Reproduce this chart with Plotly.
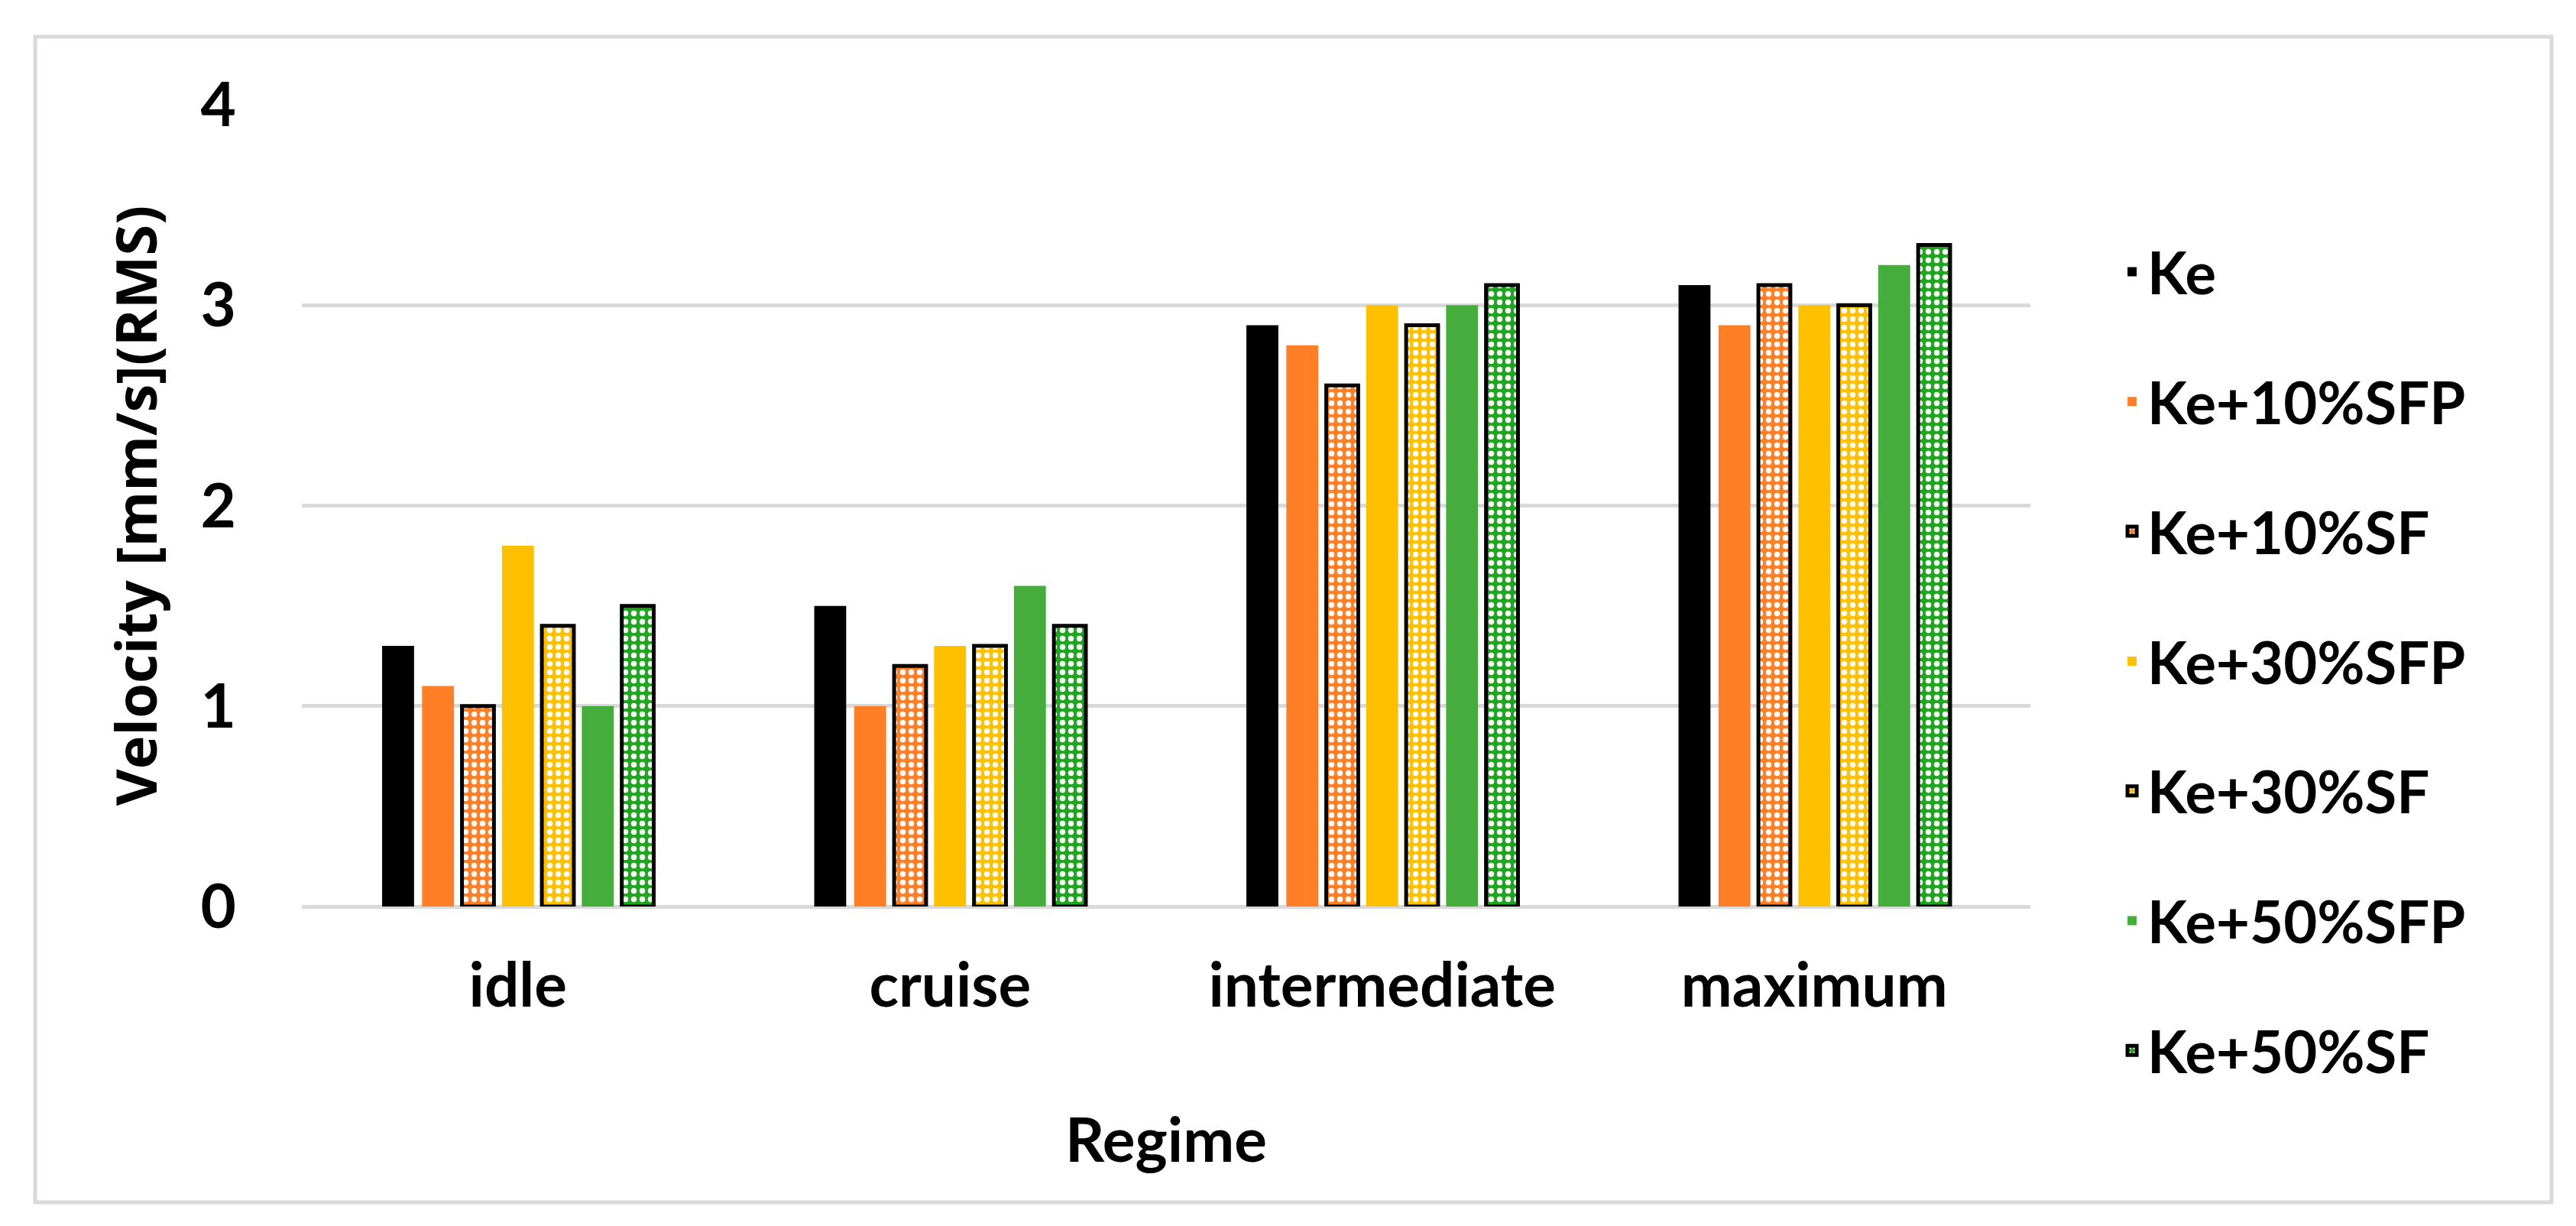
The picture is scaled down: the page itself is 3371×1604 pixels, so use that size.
import plotly.graph_objects as go

# ---- data ----
categories = ["idle", "cruise", "intermediate", "maximum"]
series_names = ["Ke", "Ke+10%SFP", "Ke+10%SF", "Ke+30%SFP", "Ke+30%SF", "Ke+50%SFP", "Ke+50%SF"]
ke = [1.3, 1.5, 2.9, 3.1]
ke_10sfp = [1.1, 1.0, 2.8, 2.9]
ke_10sf = [1.0, 1.2, 2.6, 3.1]
ke_30sfp = [1.8, 1.3, 3.0, 3.0]
ke_30sf = [1.4, 1.3, 2.9, 3.0]
ke_50sfp = [1.0, 1.6, 3.0, 3.2]
ke_50sf = [1.5, 1.4, 3.1, 3.3]
y_ticks = [0, 1, 2, 3, 4]

series_values = [ke, ke_10sfp, ke_10sf, ke_30sfp, ke_30sf, ke_50sfp, ke_50sf]

# ---- styles ----
colors = ["#000000", "#FF7F27", "#FF7F27", "#FFC000", "#FFC000", "#44AD3C", "#1FA51F"]
patterned = [False, False, True, False, True, False, True]

W, H = 3371, 1604
L, R, T, B = 387, 722, 129, 426
pw, ph = W - L - R, H - T - B

fig = go.Figure()
for i, (name, vals) in enumerate(zip(series_names, series_values)):
    marker = dict(color=colors[i])
    if patterned[i]:
        marker["pattern"] = dict(shape=".", fillmode="replace", bgcolor=colors[i],
                                 fgcolor="white", size=11, solidity=0.35)
        marker["line"] = dict(color="black", width=5)
    else:
        marker["line"] = dict(width=0)
    fig.add_trace(go.Bar(x=categories, y=vals, name=name, marker=marker,
                         legendgroup=name))

tick_font = dict(family="Lato", size=80, color="black", weight="bold")
legend_font = dict(family="Lato", size=76, color="black", weight="bold")

# outer chart border
def px_to_paper_x(px):
    return (px - L) / pw

def px_to_paper_y(py):
    return (H - B - py) / ph

fig.add_shape(type="rect", xref="paper", yref="paper",
              x0=px_to_paper_x(38), x1=px_to_paper_x(3331),
              y0=px_to_paper_y(1565), y1=px_to_paper_y(40),
              line=dict(color="#D9D9D9", width=5), fillcolor="rgba(0,0,0,0)",
              layer="below")

fig.update_layout(
    width=W, height=H, autosize=False,
    margin=dict(l=L, r=R, t=T, b=B, pad=0),
    paper_bgcolor="white", plot_bgcolor="white",
    barmode="group", bargap=0.353, bargroupgap=0.2,
    font=tick_font,
    legend=dict(x=1.05, y=0.845, xanchor="left", yanchor="top",
                font=legend_font, tracegroupgap=68, itemwidth=30,
                maxheight=1400, bgcolor="rgba(0,0,0,0)"),
    showlegend=True,
)

fig.update_xaxes(
    showline=False, showgrid=False, zeroline=False, ticks="",
    tickfont=tick_font, ticklabelstandoff=50,
    title=dict(text="Regime", font=tick_font, standoff=130),
)
fig.update_yaxes(
    range=[0, 4], tickvals=y_ticks, ticktext=[str(v) for v in y_ticks],
    showgrid=True, gridcolor="#D9D9D9", gridwidth=5,
    zeroline=True, zerolinecolor="#D9D9D9", zerolinewidth=5,
    showline=False, ticks="", tickfont=tick_font, ticklabelstandoff=85,
    title=dict(text="Velocity [mm/s](RMS)",
               font=dict(family="Open Sans", size=74, color="black", weight="bold"),
               standoff=32),
)

fig.write_html("out.html")
